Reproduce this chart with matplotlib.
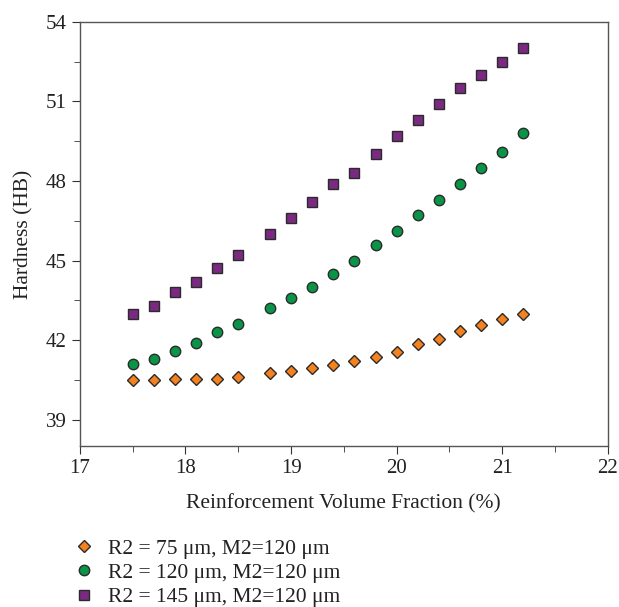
import matplotlib
matplotlib.use("Agg")
import matplotlib.pyplot as plt
from matplotlib.ticker import MultipleLocator

plt.rcParams["font.family"] = ["Liberation Serif", "DejaVu Serif"]

# Volume fraction (%)
vol_frac = [17.5, 17.7, 17.9, 18.1, 18.3, 18.5, 18.8, 19.0, 19.2, 19.4,
            19.6, 19.8, 20.0, 20.2, 20.4, 20.6, 20.8, 21.0, 21.2]

# Hardness (HB) per series
hb_r75 = [40.5, 40.5, 40.55, 40.55, 40.55, 40.6, 40.75, 40.85, 40.95, 41.05,
          41.2, 41.35, 41.55, 41.85, 42.05, 42.35, 42.55, 42.8, 43.0]
hb_r120 = [41.1, 41.3, 41.6, 41.9, 42.3, 42.6, 43.2, 43.6, 44.0, 44.5,
           45.0, 45.6, 46.1, 46.7, 47.3, 47.9, 48.5, 49.1, 49.8]
hb_r145 = [43.0, 43.3, 43.8, 44.2, 44.7, 45.2, 46.0, 46.6, 47.2, 47.9,
           48.3, 49.0, 49.7, 50.3, 50.9, 51.5, 52.0, 52.5, 53.0]

labels = ["R2 = 75 μm, M2=120 μm",
          "R2 = 120 μm, M2=120 μm",
          "R2 = 145 μm, M2=120 μm"]

fig = plt.figure(figsize=(6.19, 6.07), dpi=100)
ax = fig.add_axes([0.129, 0.265, 0.853, 0.699])

edge = "#2b2b2b"
ax.plot(vol_frac, hb_r75, "D", color="#f5821f", mec=edge, mew=1.0, ms=6.5, label=labels[0])
ax.plot(vol_frac, hb_r120, "o", color="#0a9447", mec=edge, mew=1.0, ms=7.5, label=labels[1])
ax.plot(vol_frac, hb_r145, "s", color="#7a2a80", mec=edge, mew=1.0, ms=6.5, label=labels[2])

ax.set_xlim(17, 22)
ax.set_ylim(38, 54)
ax.xaxis.set_major_locator(MultipleLocator(1))
ax.xaxis.set_minor_locator(MultipleLocator(0.5))
ax.set_yticks([39, 42, 45, 48, 51, 54])
ax.set_yticks([40.5, 43.5, 46.5, 49.5, 52.5], minor=True)
ax.tick_params(which="both", direction="out", top=False, right=False,
               colors="#333333", labelcolor="#222222", labelsize=15)
ax.tick_params(which="major", length=6)
ax.tick_params(which="minor", length=4)
for sp in ax.spines.values():
    sp.set_color("#555555")
    sp.set_linewidth(1.0)

ax.set_xlabel("Reinforcement Volume Fraction (%)", fontsize=15.5, color="#222222", labelpad=11)
ax.set_ylabel("Hardness (HB)", fontsize=15.5, color="#222222", labelpad=9)

fig.legend(loc="upper left", bbox_to_anchor=(0.105, 0.127), frameon=False,
           fontsize=15.5, handlelength=1.0, handletextpad=0.6, labelspacing=0.2,
           borderaxespad=0, labelcolor="#222222")

fig.savefig("out.png", dpi=100)
